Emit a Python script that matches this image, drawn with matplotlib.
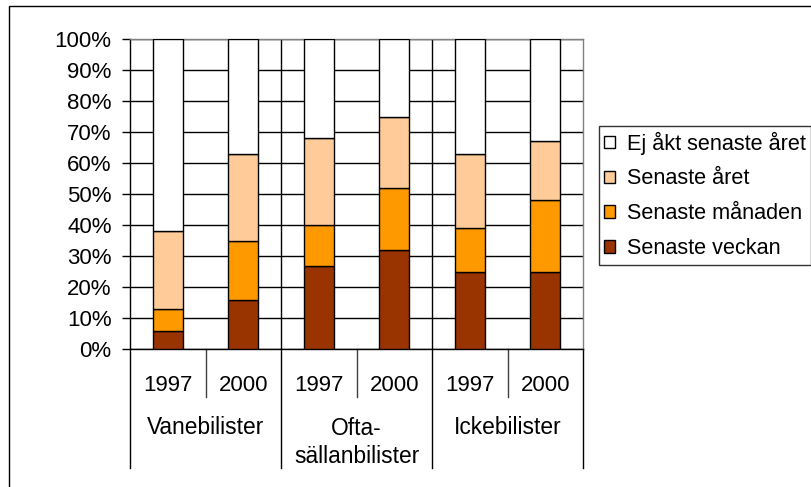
import matplotlib
matplotlib.use("Agg")
import matplotlib.pyplot as plt
from matplotlib.patches import Rectangle, Patch
import numpy as np

plt.rcParams['font.family'] = ['Liberation Sans', 'DejaVu Sans']

# Data (percent of respondents)
groups = ["Vanebilister", "Ofta-\nsällanbilister", "Ickebilister"]
years = ["1997", "2000", "1997", "2000", "1997", "2000"]
senaste_veckan = [6, 16, 27, 32, 25, 25]
senaste_manaden = [7, 19, 13, 20, 14, 23]
senaste_aret = [25, 28, 28, 23, 24, 19]
ej_akt = [62, 37, 32, 25, 37, 33]

series = [
    ("Senaste veckan", senaste_veckan, "#993300"),
    ("Senaste månaden", senaste_manaden, "#FF9900"),
    ("Senaste året", senaste_aret, "#FFCC99"),
    ("Ej åkt senaste året", ej_akt, "#FFFFFF"),
]

W, H = 811, 487
fig = plt.figure(figsize=(W / 100, H / 100), dpi=100)
fs = 16

# plot area in pixel coordinates
left_px, right_px, top_px, bottom_px = 130, 583, 39, 349.3
ax = fig.add_axes([left_px / W, 1 - bottom_px / H,
                   (right_px - left_px) / W, (bottom_px - top_px) / H])
axh_px = bottom_px - top_px

x = np.arange(len(years))
bottom = np.zeros(len(years))
for name, vals, color in series:
    ax.bar(x, vals, width=0.4, bottom=bottom, color=color,
           edgecolor="black", linewidth=1, label=name, zorder=3)
    bottom += np.array(vals)

ax.set_xlim(-0.5, len(years) - 0.5)
ax.set_ylim(0, 100)
ax.set_yticks(np.arange(0, 101, 10))
ax.set_yticklabels([f"{v}%" for v in range(0, 101, 10)], fontsize=fs)
ax.tick_params(axis="y", direction="out", length=5.8, width=1, pad=7.5,
               color="black")
ax.set_xticks([])
ax.yaxis.grid(True, color="black", linewidth=1, zorder=0)
ax.set_axisbelow(True)

for side in ("top", "right"):
    ax.spines[side].set_color("#808080")
    ax.spines[side].set_linewidth(1)
for side in ("left", "bottom"):
    ax.spines[side].set_color("black")
    ax.spines[side].set_linewidth(1)

# group separators inside the plot
for gx in (1.5, 3.5):
    ax.axvline(gx, color="black", linewidth=1, zorder=1)

# category axis: separators and labels below the plot
tr = ax.get_xaxis_transform()
def below(px):
    return -px / axh_px

for sx in (0.5, 2.5, 4.5):
    ax.plot([sx, sx], [0, below(47.7)], transform=tr, color="#404040",
            linewidth=1, clip_on=False)
for sx in (-0.5, 1.5, 3.5, 5.5):
    ax.plot([sx, sx], [0, below(118.7)], transform=tr, color="black",
            linewidth=1, clip_on=False)

for xi, yr in zip(x, years):
    ax.text(xi, below(36), yr, transform=tr, ha="center", va="center",
            fontsize=fs)

gfs = 16.4
for gi, g in enumerate(groups):
    cx = 2 * gi + 0.5
    if "\n" in g:
        ax.text(cx, below(93), g, transform=tr, ha="center", va="center",
                fontsize=gfs, linespacing=1.27)
    else:
        ax.text(cx, below(78.5), g, transform=tr, ha="center", va="center",
                fontsize=gfs)

# legend (reverse stacking order)
handles = [Patch(facecolor=c, edgecolor="black", linewidth=1, label=n)
           for n, _, c in series[::-1]]
leg = fig.legend(handles=handles, loc="upper left",
                 bbox_to_anchor=(599 / W, 1 - 126 / H),
                 fontsize=15.6, frameon=True, fancybox=False, shadow=False,
                 handlelength=0.5, handleheight=0.5, handletextpad=0.55,
                 labelspacing=0.64, borderpad=0.25, borderaxespad=0)
leg.get_frame().set_edgecolor("black")
leg.get_frame().set_linewidth(1)

# outer frame of the chart
fig.patches.append(Rectangle((9 / W, -0.1), 1.2, 1 - 6 / H + 0.1,
                             transform=fig.transFigure, fill=False,
                             edgecolor="black", linewidth=1))

fig.savefig("out.png", dpi=100)
